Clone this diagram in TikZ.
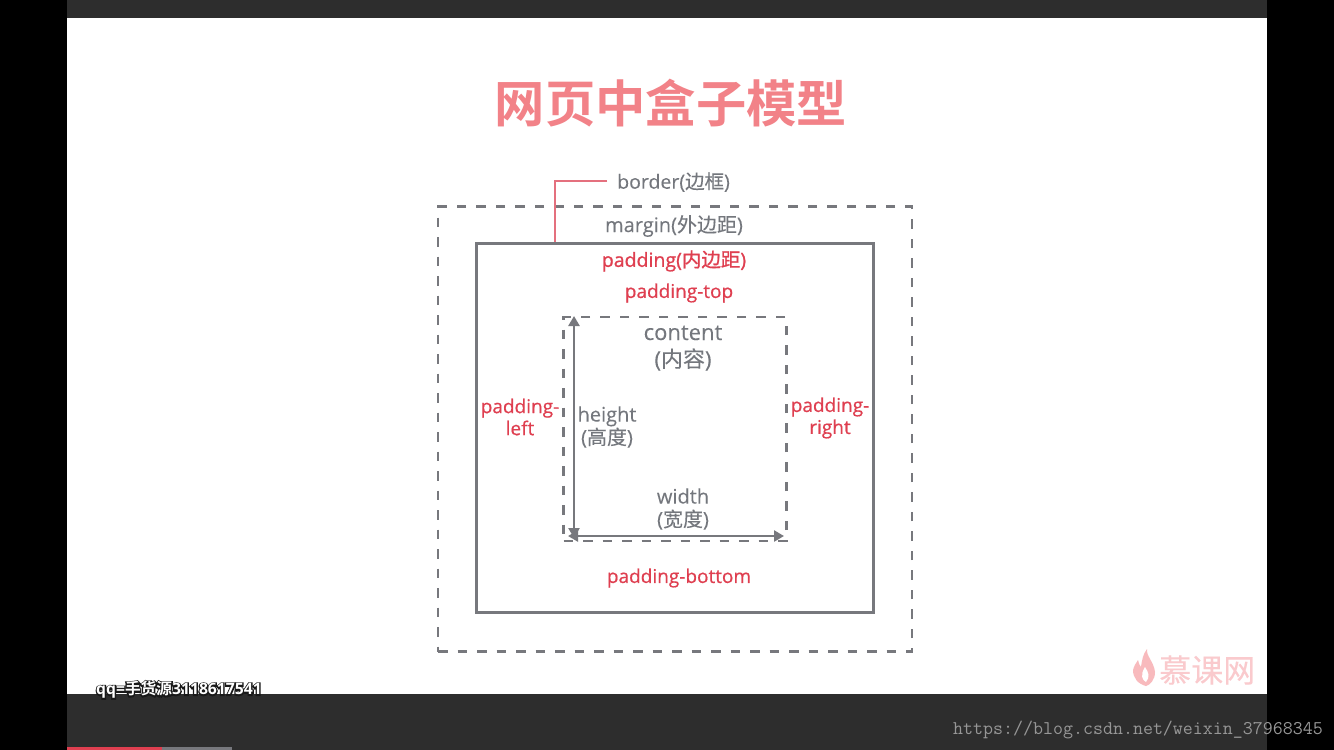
\documentclass[tikz,border=0pt]{standalone}
\usepackage{fontspec}
\setmainfont{Open Sans}[FakeBold=0.12]
\newfontfamily\cjk{Noto Sans CJK SC}[FakeBold=0.1]
\newfontfamily\cjkb{Noto Sans CJK SC Bold}
\newfontfamily\sem{Open Sans}[FakeBold=0.6]
\newfontfamily\cjks{Noto Sans CJK SC}[FakeBold=0.6]
\newfontfamily\semb{Open Sans}[FakeBold=1.0]
\newfontfamily\cjkm{Noto Sans CJK SC}[FakeBold=1.0]
\newfontfamily\qqf{Open Sans Bold}
\usetikzlibrary{arrows.meta,calc}
\definecolor{gline}{HTML}{77787D}
\definecolor{gtxt}{HTML}{74777D}
\definecolor{rtxt}{HTML}{DF3F50}
\definecolor{rline}{HTML}{E4707E}
\definecolor{ttl}{HTML}{F28288}
\definecolor{barc}{HTML}{2D2D2D}
\tikzset{
  dashbox/.style={draw=gline,line width=2.6pt,dash pattern=on 9.5pt off 10pt,inner sep=0pt,fill=none},
  solidbox/.style={draw=gline,line width=3pt,inner sep=0pt},
  glab/.style={text=gtxt,font=\fontsize{19.5}{23}\selectfont,align=center,inner sep=0pt},
  rlab/.style={text=rtxt,font=\sem\fontsize{19}{22}\selectfont,align=center,inner sep=0pt},
  arr/.style={draw=gline,line width=2.8pt,-{Triangle[length=10pt,width=11pt]}},
  qqstyle/.style={inner sep=0pt,font=\qqf\fontsize{15.7}{14}\selectfont,anchor=west},
}
\begin{document}
\begin{tikzpicture}[x=1pt,y=-1pt]
\useasboundingbox (0,0) rectangle (1334,750);
\fill[black] (0,0) rectangle (1334,750);
\fill[white] (67,18) rectangle (1267,694);
\fill[barc] (67,0) rectangle (1267,18);
\fill[barc] (67,694) rectangle (1267,750);
\fill[rtxt] (67,747) rectangle (162,750);
\fill[gline] (162,747) rectangle (232,750);

\node[text=ttl,inner sep=0pt,font=\cjkb\fontsize{50.3}{50}\selectfont] (title) at (671,103) {网页中盒子模型};

\node[dashbox,minimum width=474pt,minimum height=445pt] (margin) at (675,429) {};
\node[solidbox,minimum width=397pt,minimum height=369pt] (borderbox) at (675,428) {};
\node[dashbox,minimum width=223pt,minimum height=224pt] (content) at (675,429) {};

\node[glab,anchor=west] (border) at (617,182) {border({\cjk 边框})};
\coordinate (bend) at (555,181);
\coordinate (bstart) at (607,181);
\coordinate (bfoot) at (555,242);
\draw[rline,line width=2.8pt] (bstart) -- (bend) -- (bfoot);

\node[glab,font=\fontsize{20}{23}\selectfont] (marginl) at (674,226) {margin({\cjk 外边距})};
\node[rlab,font=\semb\fontsize{19.5}{22}\selectfont] (paddingl) at (674,261) {padding({\cjkm 内边距})};
\node[rlab] (ptop) at (679,293) {padding-top};
\node[rlab] (pbottom) at (679,578) {padding-bottom};
\node[rlab] (pleft) at (520,417) {padding-\\left};
\node[rlab] (pright) at (830,418) {padding-\\right};
\node[glab,font=\fontsize{22}{27}\selectfont] (contentl) at (683,348) {content\\({\cjk 内容})};
\node[glab,font=\fontsize{20}{23}\selectfont] (heightl) at (607,427) {height\\({\cjk 高度})};
\node[glab,font=\fontsize{20}{23}\selectfont] (widthl) at (683,509) {width\\({\cjk 宽度})};

\coordinate (o) at (574,536);
\coordinate (h) at (574,316);
\coordinate (w) at (784,536);
\draw[arr] (o) -- (h);
\draw[arr] (o) -- (w);
\draw[arr] ($(o)+(0,-8)$) -- ($(o)+(0,2)$);
\draw[arr] ($(o)+(8,0)$) -- ($(o)+(-6,0)$);

\node[inner sep=0pt,text=ttl!42!white,font=\cjk\fontsize{32}{32}\selectfont,anchor=west] (brand) at (1159,670) {慕课网};
\fill[ttl!55!white] (1147,649) .. controls (1146,656) and (1154,662) .. (1155,672) .. controls (1155,680) and (1150,685) .. (1146,686) .. controls (1138,684) and (1133,678) .. (1133,670) .. controls (1134,666) and (1136,663) .. (1138,660) .. controls (1139,664) and (1140,666) .. (1141,667) .. controls (1142,660) and (1143,654) .. (1147,649) -- cycle;
\fill[white] (1145,667) .. controls (1149,673) and (1150,677) .. (1146,682) .. controls (1142,680) and (1140,675) .. (1145,667) -- cycle;

\node[qqstyle,text=barc] (qqhalo) at (96,690) {\special{pdf:code 2 Tr 2.6 w 0.1 0.1 0.1 RG}qq={\cjkb 手货源}3118617541\special{pdf:code 0 Tr 0 w}};
\node[qqstyle,text=white] (qq) at (96,690) {qq={\cjkb 手货源}3118617541};
\node[inner sep=0pt,text=white!50!barc,font=\ttfamily\fontsize{19.4}{19}\selectfont,anchor=east] (url) at (1323,730) {https://blog.csdn.net/weixin\_37968345};
\end{tikzpicture}
\end{document}
